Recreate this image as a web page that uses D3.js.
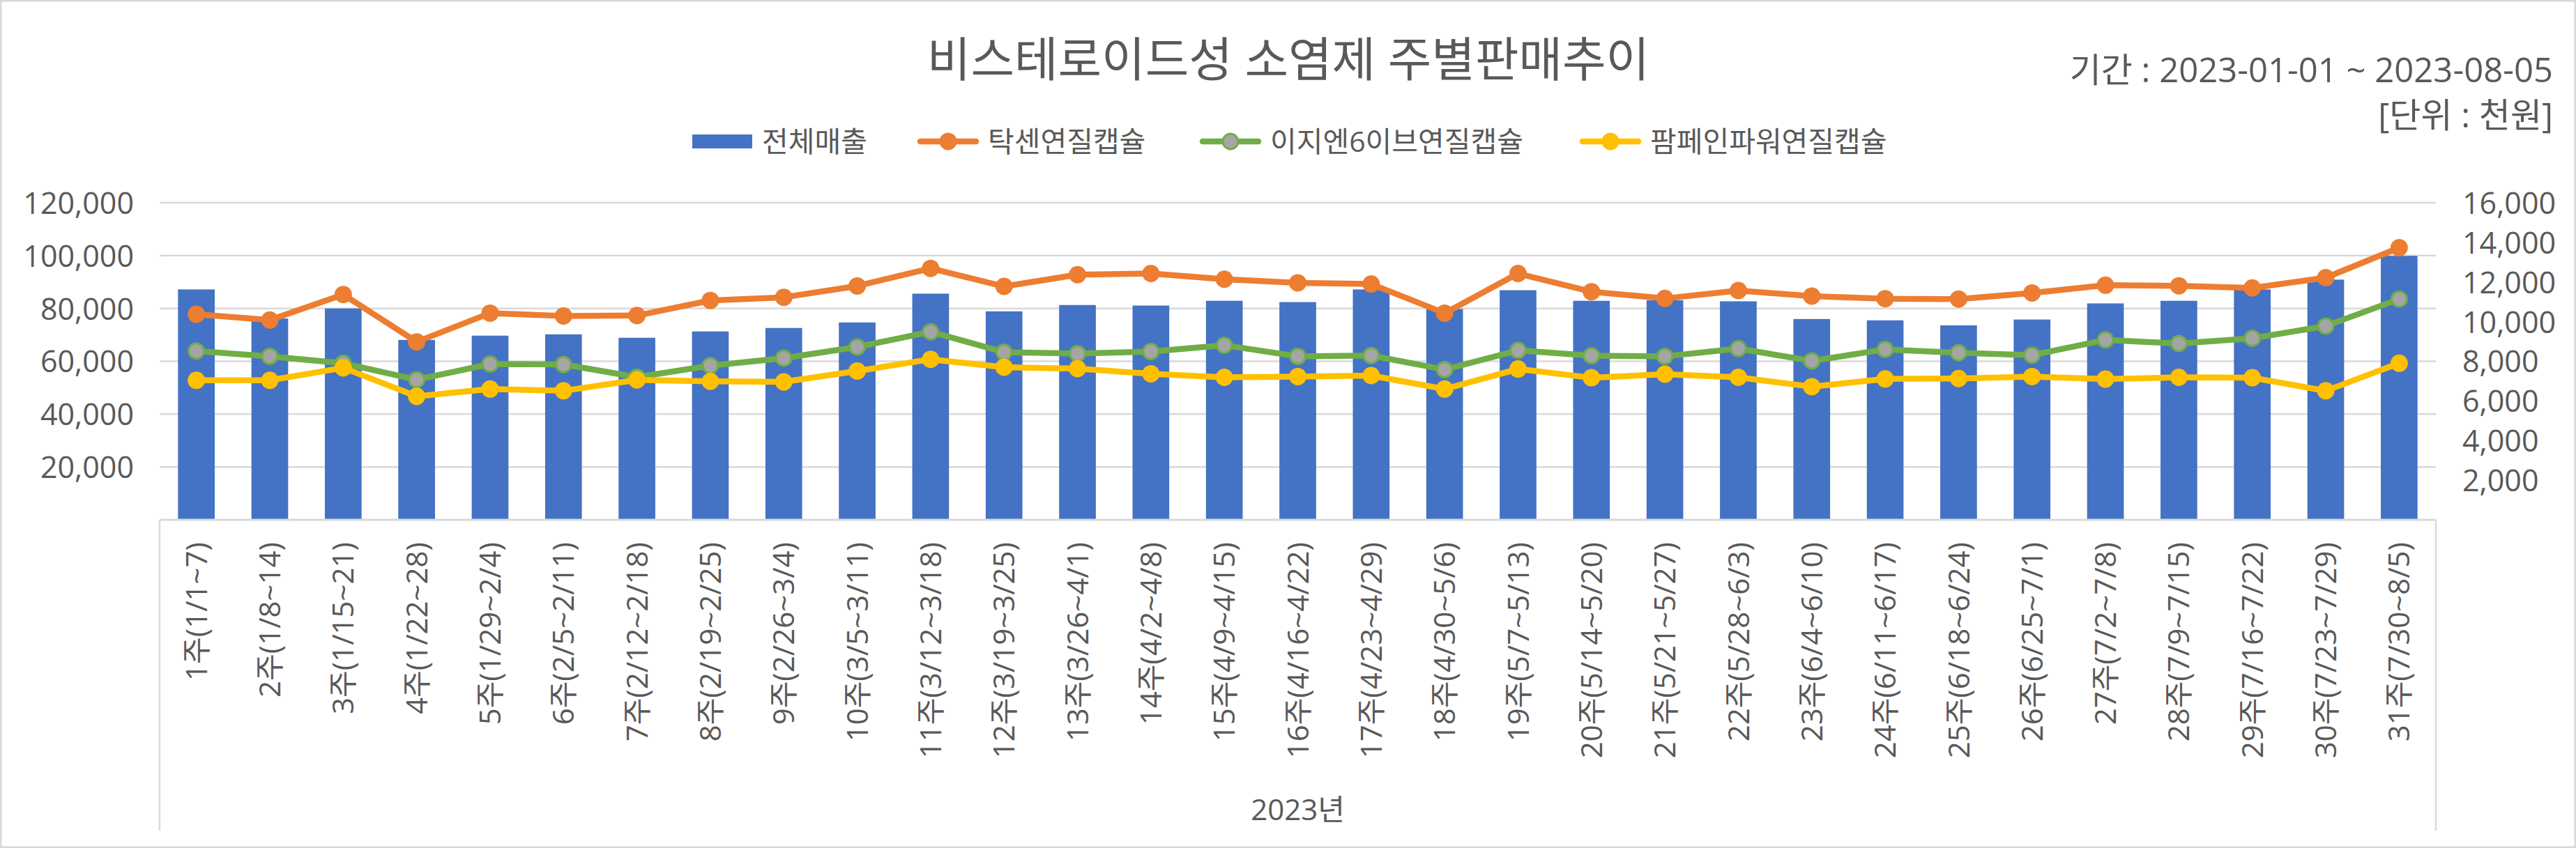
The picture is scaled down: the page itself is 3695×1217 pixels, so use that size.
<!DOCTYPE html>
<html>
<head>
<meta charset="utf-8">
<script src="https://cdn.jsdelivr.net/npm/d3@7"></script>
<style>
  html, body { margin: 0; padding: 0; background: #fff; }
  svg { display: block; }
  text { font-family: 'Open Sans', 'Noto Sans CJK KR', sans-serif; fill: #595959; }
</style>
</head>
<body>
<svg id="chart" width="3695" height="1217"></svg>
<script>
const categories = ["1주(1/1~7)", "2주(1/8~14)", "3주(1/15~21)", "4주(1/22~28)", "5주(1/29~2/4)", "6주(2/5~2/11)", "7주(2/12~2/18)", "8주(2/19~2/25)", "9주(2/26~3/4)", "10주(3/5~3/11)", "11주(3/12~3/18)", "12주(3/19~3/25)", "13주(3/26~4/1)", "14주(4/2~4/8)", "15주(4/9~4/15)", "16주(4/16~4/22)", "17주(4/23~4/29)", "18주(4/30~5/6)", "19주(5/7~5/13)", "20주(5/14~5/20)", "21주(5/21~5/27)", "22주(5/28~6/3)", "23주(6/4~6/10)", "24주(6/11~6/17)", "25주(6/18~6/24)", "26주(6/25~7/1)", "27주(7/2~7/8)", "28주(7/9~7/15)", "29주(7/16~7/22)", "30주(7/23~7/29)", "31주(7/30~8/5)"];

// 전체매출 (left axis)
const totalSales = [87200, 76200, 80000, 68100, 69700, 70200, 68900, 71300, 72600, 74700, 85600, 78900, 81300, 81100, 82900, 82400, 87200, 79800, 86900, 82900, 83100, 82700, 76000, 75500, 73600, 75800, 81900, 82900, 87200, 90900, 99900];
// 탁센연질캡슐 (right axis)
const taxen = [10370, 10080, 11370, 8980, 10430, 10290, 10310, 11070, 11230, 11800, 12690, 11780, 12370, 12430, 12140, 11960, 11900, 10430, 12430, 11510, 11170, 11570, 11290, 11160, 11140, 11450, 11840, 11810, 11700, 12220, 13730];
// 이지엔6이브연질캡슐 (right axis)
const easyn6 = [8520, 8250, 7900, 7070, 7860, 7840, 7200, 7780, 8160, 8720, 9490, 8460, 8390, 8490, 8810, 8250, 8290, 7580, 8550, 8280, 8250, 8640, 8020, 8600, 8430, 8310, 9080, 8900, 9160, 9780, 11140];
// 팜페인파워연질캡슐 (right axis)
const painPower = [7040, 7040, 7670, 6230, 6600, 6510, 7060, 6990, 6960, 7510, 8100, 7700, 7630, 7370, 7190, 7230, 7280, 6600, 7610, 7170, 7350, 7190, 6720, 7110, 7130, 7230, 7100, 7190, 7170, 6510, 7900];

const seriesNames = ["전체매출", "탁센연질캡슐", "이지엔6이브연질캡슐", "팜페인파워연질캡슐"];
const leftTicks = [20000, 40000, 60000, 80000, 100000, 120000];
const rightTicks = [2000, 4000, 6000, 8000, 10000, 12000, 14000, 16000];
const titleText = "비스테로이드성 소염제 주별판매추이";
const periodText = "기간 : 2023-01-01 ~ 2023-08-05";
const unitText = "[단위 : 천원]";
const yearLabel = "2023년";

const W = 3695, H = 1217;
const plot = { left: 229, right: 3494, top: 291, bottom: 746 };
const colors = { bar: "#4472C4", orange: "#ED7D31", green: "#70AD47", gray: "#A5A5A5", yellow: "#FFC000", grid: "#D9D9D9", text: "#595959" };

const svg = d3.select("#chart");

// outer border
svg.append("rect").attr("x", 1.25).attr("y", 1.25).attr("width", W - 2.5).attr("height", H - 2.5)
  .attr("fill", "#fff").attr("stroke", colors.grid).attr("stroke-width", 2.5);

const x = d3.scaleBand().domain(categories).range([plot.left, plot.right]).paddingInner(0.5).paddingOuter(0.25);
const yL = d3.scaleLinear().domain([0, 120000]).range([plot.bottom, plot.top]);
const yR = d3.scaleLinear().domain([0, 16000]).range([plot.bottom, plot.top]);
const cx = c => x(c) + x.bandwidth() / 2;

// gridlines
svg.append("g").selectAll("line").data(leftTicks).join("line")
  .attr("x1", plot.left).attr("x2", plot.right)
  .attr("y1", d => yL(d)).attr("y2", d => yL(d))
  .attr("stroke", colors.grid).attr("stroke-width", 2.5);

// left axis
const axL = svg.append("g").attr("transform", `translate(${plot.left - 37},0)`)
  .call(d3.axisLeft(yL).tickValues(leftTicks).tickSize(0).tickPadding(0).tickFormat(d3.format(",")));
axL.select(".domain").remove();
axL.selectAll("text").attr("font-size", 43).attr("fill", colors.text).attr("dy", "0.36em")
  .style("font-family", "'Open Sans', 'Noto Sans CJK KR', sans-serif");

// right axis
const axR = svg.append("g").attr("transform", `translate(${plot.right + 38},0)`)
  .call(d3.axisRight(yR).tickValues(rightTicks).tickSize(0).tickPadding(0).tickFormat(d3.format(",")));
axR.select(".domain").remove();
axR.selectAll("text").attr("font-size", 43).attr("fill", colors.text).attr("dy", "0.36em")
  .style("font-family", "'Open Sans', 'Noto Sans CJK KR', sans-serif");

// bars
svg.append("g").selectAll("rect").data(categories).join("rect")
  .attr("x", c => x(c)).attr("width", x.bandwidth())
  .attr("y", (c, i) => yL(totalSales[i]))
  .attr("height", (c, i) => yL(0) - yL(totalSales[i]))
  .attr("fill", colors.bar);

// category axis
svg.append("line").attr("x1", plot.left).attr("x2", plot.right).attr("y1", plot.bottom).attr("y2", plot.bottom)
  .attr("stroke", colors.grid).attr("stroke-width", 3);
svg.append("line").attr("x1", plot.left).attr("x2", plot.left).attr("y1", plot.bottom).attr("y2", 1192)
  .attr("stroke", colors.grid).attr("stroke-width", 2.5);
svg.append("line").attr("x1", plot.right).attr("x2", plot.right).attr("y1", plot.bottom).attr("y2", 1192)
  .attr("stroke", colors.grid).attr("stroke-width", 2.5);

svg.append("g").selectAll("text").data(categories).join("text")
  .attr("transform", c => `translate(${cx(c)},778) rotate(-90)`)
  .attr("text-anchor", "end").attr("dy", "0.36em")
  .attr("font-size", 42).text(c => c);

svg.append("text").attr("x", (plot.left + plot.right) / 2).attr("y", 1177)
  .attr("text-anchor", "middle").attr("font-size", 42).text(yearLabel);

// lines
function drawLine(values, stroke, markerFill, markerStroke) {
  const line = d3.line().x((d, i) => cx(categories[i])).y(d => yR(d));
  svg.append("path").datum(values).attr("d", line)
    .attr("fill", "none").attr("stroke", stroke).attr("stroke-width", 8.5)
    .attr("stroke-linejoin", "round").attr("stroke-linecap", "round");
  svg.append("g").selectAll("circle").data(values).join("circle")
    .attr("cx", (d, i) => cx(categories[i])).attr("cy", d => yR(d))
    .attr("r", markerStroke ? 11 : 12.5)
    .attr("fill", markerFill)
    .attr("stroke", markerStroke || "none").attr("stroke-width", markerStroke ? 3 : 0);
}
drawLine(taxen, colors.orange, colors.orange, null);
drawLine(easyn6, colors.green, colors.gray, colors.green);
drawLine(painPower, colors.yellow, colors.yellow, null);

// title
svg.append("text").attr("x", 1848).attr("y", 110).attr("text-anchor", "middle")
  .attr("font-size", 68).text(titleText);

// period / unit
svg.append("text").attr("x", 3662).attr("y", 118).attr("text-anchor", "end")
  .attr("font-size", 49).text(periodText);
svg.append("text").attr("x", 3662).attr("y", 183).attr("text-anchor", "end")
  .attr("font-size", 49).text(unitText);

// legend
const legendY = 203;
const legendItems = [
  { name: seriesNames[0], type: "bar", x0: 993, color: colors.bar },
  { name: seriesNames[1], type: "line", x0: 1316, color: colors.orange, mfill: colors.orange },
  { name: seriesNames[2], type: "line", x0: 1721, color: colors.green, mfill: colors.gray, mstroke: colors.green },
  { name: seriesNames[3], type: "line", x0: 2266, color: colors.yellow, mfill: colors.yellow }
];
const lg = svg.append("g");
legendItems.forEach(it => {
  const g = lg.append("g");
  if (it.type === "bar") {
    g.append("rect").attr("x", it.x0).attr("y", legendY - 10).attr("width", 86).attr("height", 20).attr("fill", it.color);
  } else {
    g.append("line").attr("x1", it.x0 + 4).attr("x2", it.x0 + 84).attr("y1", legendY).attr("y2", legendY)
      .attr("stroke", it.color).attr("stroke-width", 8.5).attr("stroke-linecap", "round");
    g.append("circle").attr("cx", it.x0 + 44).attr("cy", legendY).attr("r", it.mstroke ? 11 : 12.5)
      .attr("fill", it.mfill).attr("stroke", it.mstroke || "none").attr("stroke-width", it.mstroke ? 3 : 0);
  }
  g.append("text").attr("x", it.x0 + (it.type === "bar" ? 100 : 101)).attr("y", legendY + 15)
    .attr("font-size", 41).text(it.name);
});
</script>
</body>
</html>
